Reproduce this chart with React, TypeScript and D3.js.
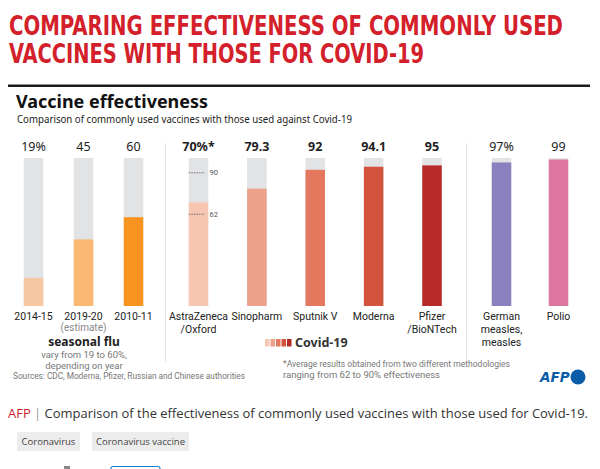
import React from "react";
import * as d3 from "d3";

const fluCategories = ["2014-15", "2019-20", "2010-11"];
const fluValues = [19, 45, 60];
const fluLabels = ["19%", "45", "60"];
const fluColors = ["#f6c7a0", "#fbb874", "#f7931e"];

const covidCategories = ["AstraZeneca|/Oxford", "Sinopharm", "Sputnik V", "Moderna", "Pfizer|/BioNTech"];
const covidValues = [70, 79.3, 92, 94.1, 95];
const covidLabels = ["70%*", "79.3", "92", "94.1", "95"];
const covidColors = ["#f6c6b3", "#eda08a", "#e4785f", "#d2543f", "#b82a2a"];

const otherCategories = ["German|measles,|measles", "Polio"];
const otherValues = [97, 99];
const otherLabels = ["97%", "99"];
const otherColors = ["#8a80c0", "#dd779f"];

const astraRange = [62, 90];
const tags = ["Coronavirus", "Coronavirus vaccine"];

const FONT = "'Noto Sans', 'Open Sans', sans-serif";
const NARROW = "Roboto, 'Noto Sans', sans-serif";

export default function App() {
  const y = d3.scaleLinear().domain([0, 100]).range([306, 158]);
  const xFlu = d3.scalePoint<string>().domain(fluCategories).range([33.5, 133.5]);
  const xCovid = d3.scalePoint<string>().domain(covidCategories).range([198.5, 432]);
  const xOther = d3.scalePoint<string>().domain(otherCategories).range([501.5, 558.5]);
  const bw = 19.5;

  const groups = [
    { cats: fluCategories, vals: fluValues, labels: fluLabels, colors: fluColors, x: xFlu, bold: false },
    { cats: covidCategories, vals: covidValues, labels: covidLabels, colors: covidColors, x: xCovid, bold: true },
    { cats: otherCategories, vals: otherValues, labels: otherLabels, colors: otherColors, x: xOther, bold: false },
  ];

  const azX = xCovid(covidCategories[0]) as number;

  return (
    <svg width={600} height={469} style={{ position: "absolute", left: 0, top: 0, background: "#fff" }} fontFamily={FONT}>
      <rect x={0} y={0} width={600} height={469} fill="#fff" />
      {/* Title */}
      <text x={9} y={35} fill="#d3202a" fontSize={27} fontWeight="bold"
        fontFamily="'DejaVu Sans Condensed', 'Liberation Sans Narrow', sans-serif"
        textLength={554} lengthAdjust="spacingAndGlyphs">COMPARING EFFECTIVENESS OF COMMONLY USED</text>
      <text x={9} y={63} fill="#d3202a" fontSize={27} fontWeight="bold"
        fontFamily="'DejaVu Sans Condensed', 'Liberation Sans Narrow', sans-serif"
        textLength={415} lengthAdjust="spacingAndGlyphs">VACCINES WITH THOSE FOR COVID-19</text>
      <rect x={8} y={84.5} width={582} height={2.5} fill="#1a1a1a" />

      <text x={16} y={108} fontSize={18} fontWeight="bold" fill="#111" textLength={192} lengthAdjust="spacingAndGlyphs">Vaccine effectiveness</text>
      <text x={17} y={123} fontSize={10.5} fill="#222" textLength={335} lengthAdjust="spacingAndGlyphs">Comparison of commonly used vaccines with those used against Covid-19</text>

      {/* separators */}
      <line x1={165.5} x2={165.5} y1={143} y2={362} stroke="#e4e4e4" strokeWidth={1} />
      <line x1={466.5} x2={466.5} y1={143} y2={362} stroke="#e4e4e4" strokeWidth={1} />

      {groups.map((g, gi) => (
        <g key={gi}>
          {g.cats.map((c, i) => {
            const cx = g.x(c) as number;
            const lines = c.split("|");
            return (
              <g key={c}>
                <rect x={cx - bw / 2} y={y(100)} width={bw} height={y(0) - y(100)} fill="#e2e3e5" />
                <rect x={cx - bw / 2} y={y(g.vals[i])} width={bw} height={y(0) - y(g.vals[i])} fill={g.colors[i]} />
                <text x={cx} y={151} textAnchor="middle" fontSize={12.5} fontWeight={g.bold ? "bold" : "normal"} fill="#222">{g.labels[i]}</text>
                {lines.map((l, li) => (
                  <text key={li} x={cx} y={320 + li * 13} textAnchor="middle" fontSize={10.5} fill="#222" fontFamily={NARROW}>{l}</text>
                ))}
              </g>
            );
          })}
        </g>
      ))}

      {/* AstraZeneca range marks */}
      {astraRange.map((v) => (
        <g key={v}>
          <line x1={azX - bw / 2} x2={azX + 6} y1={y(v)} y2={y(v)} stroke="#555" strokeWidth={0.8} strokeDasharray="1.5,1" />
          <text x={azX + 11} y={y(v)} dy="0.35em" fontSize={7.5} fill="#555" fontFamily={NARROW}>{v}</text>
        </g>
      ))}

      <text x={xFlu(fluCategories[1]) as number} y={331} textAnchor="middle" fontSize={10} fill="#888" fontFamily={NARROW}>(estimate)</text>

      {/* seasonal flu note */}
      <text x={84} y={346} textAnchor="middle" fontSize={12} fontWeight="bold" fill="#222">seasonal flu</text>
      <text x={84} y={358} textAnchor="middle" fontSize={9.5} fill="#777" fontFamily={NARROW}>vary from 19 to 60%,</text>
      <text x={84} y={368.5} textAnchor="middle" fontSize={9.5} fill="#777" fontFamily={NARROW}>depending on year</text>
      <text x={13} y={379} fontSize={9.5} fill="#777" textLength={232} lengthAdjust="spacingAndGlyphs" fontFamily={NARROW}>Sources: CDC, Moderna, Pfizer, Russian and Chinese authorities</text>

      {/* Covid legend */}
      {covidColors.map((col, i) => (
        <rect key={col} x={265 + i * 5.5} y={339} width={4.5} height={7.5} fill={col} />
      ))}
      <text x={295} y={347} fontSize={12.5} fontWeight="bold" fill="#333">Covid-19</text>

      {/* footnote */}
      <text x={283} y={367} fontSize={9.5} fill="#777" textLength={227} lengthAdjust="spacingAndGlyphs" fontFamily={NARROW}>*Average results obtained from two different methodologies</text>
      <text x={283} y={378} fontSize={9.5} fill="#777" fontFamily={NARROW}>ranging from 62 to 90% effectiveness</text>

      {/* AFP logo */}
      <text x={540} y={382} fontSize={13.5} fontWeight="bold" fontStyle="italic" fill="#0b5ca8" fontFamily="'DejaVu Sans', sans-serif">AFP</text>
      <circle cx={578} cy={377} r={7.5} fill="#0b5ca8" />

      {/* caption */}
      <text x={8} y={418} fontSize={13} fontFamily="'Open Sans', sans-serif" textLength={580} lengthAdjust="spacingAndGlyphs">
        <tspan fill="#c8242d">AFP</tspan>
        <tspan fill="#999"> | </tspan>
        <tspan fill="#333">Comparison of the effectiveness of commonly used vaccines with those used for Covid-19.</tspan>
      </text>

      {/* tags */}
      {tags.map((t, i) => {
        const xs = [17, 92];
        const ws = [63, 97];
        return (
          <g key={t}>
            <rect x={xs[i]} y={432} width={ws[i]} height={19} fill="#ececec" rx={1} />
            <text x={xs[i] + ws[i] / 2} y={445} textAnchor="middle" fontSize={9.5} fill="#444" fontFamily="'Open Sans', sans-serif">{t}</text>
          </g>
        );
      })}

      {/* cut-off buttons at bottom */}
      <rect x={64} y={466} width={6} height={4} fill="#888" />
      <rect x={111} y={466.5} width={49} height={8} rx={2} fill="none" stroke="#1f7fd0" strokeWidth={1.2} />
    </svg>
  );
}
